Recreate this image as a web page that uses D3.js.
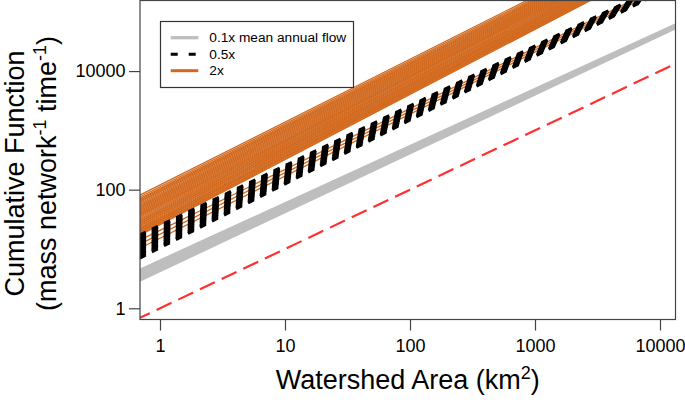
<!DOCTYPE html>
<html><head><meta charset="utf-8">
<script src="https://cdn.jsdelivr.net/npm/d3@7"></script>
<style>
body{margin:0;background:#fff;}
svg{display:block;font-family:"Liberation Sans",Arial,Helvetica,sans-serif;}
</style></head>
<body><svg id="c" width="685" height="402"></svg>
<script>
// ---- data ----
const xEnds = [0.69, 14000];            // x where every line starts / ends (km2)
const xTicks = [1, 10, 100, 1000, 10000];
const yTicks = [1, 100, 10000];
const legendLabels = ["0.1x mean annual flow", "0.5x", "2x"];

// 0.1x mean annual flow (gray)
const grayStart = [3.01, 3.30, 3.62, 3.97, 4.36];
const grayEnd   = [57000, 58300, 59700, 61000, 62400];

// 0.5x (black dashed)
const blackStart = [7.03, 7.35, 7.68, 8.11, 8.47, 8.87, 9.35, 9.77, 10.2, 10.7,
                    11.3, 11.8, 12.3, 12.9, 13.6, 14.2, 14.9, 15.6, 16.4, 17.2];
const blackEnd   = [305000, 309000, 313000, 316000, 320000, 324000, 328000, 331000, 335000, 339000,
                    343000, 347000, 351000, 355000, 360000, 363000, 367000, 372000, 377000, 380000];

// 2x (orange)
const orangeStart = [10.3, 12.1, 14.1,
  17.1, 17.7, 18.5, 19.1, 20.0, 20.6, 21.6, 22.3, 23.3, 24.5, 25.2, 26.5, 27.3, 28.6, 30.0, 30.9,
  32.4, 34.0, 35.6, 37.2, 38.5, 40.3, 42.2, 44.3, 46.3, 48.5, 50.8, 53.3, 55.8, 58.5, 61.4, 64.3,
  67.3, 70.6, 75.2, 81.1];
const orangeEnd = [330000, 350000, 370000,
  916000, 940000, 973000, 995000, 1030000, 1060000, 1090000, 1120000, 1160000, 1200000, 1230000, 1280000, 1310000, 1350000, 1400000, 1440000,
  1490000, 1540000, 1600000, 1660000, 1690000, 1750000, 1820000, 1880000, 1950000, 2020000, 2090000, 2170000, 2250000, 2330000, 2420000, 2500000,
  2590000, 2690000, 2810000, 2990000];

// 1:1 reference (red dashed)
const redStart = [0.69];
const redEnd = [14000];

// ---- layout ----
const L = 140, R = 675.5, T = 0.5, B = 319.5;
const svg = d3.select("#c");
const x = d3.scaleLog().domain([Math.pow(10, -0.16), Math.pow(10, 4.124)]).range([L, R]);
const y = d3.scaleLog().domain([Math.pow(10, -0.189), Math.pow(10, 5.19)]).range([B, T]);

svg.append("defs").append("clipPath").attr("id", "clip")
  .append("rect").attr("x", L).attr("y", T).attr("width", R - L).attr("height", B - T);

const line = d3.line().x(d => x(d[0])).y(d => y(d[1]));
const plot = svg.append("g").attr("clip-path", "url(#clip)");

function bundle(starts, ends, attrs) {
  const g = plot.append("g");
  starts.forEach((s, i) => {
    const p = g.append("path").attr("d", line([[xEnds[0], s], [xEnds[1], ends[i]]])).attr("fill", "none");
    Object.entries(attrs).forEach(([k, v]) => p.attr(k, v));
  });
}
bundle(orangeStart, orangeEnd, {stroke: "#d2691e", "stroke-width": 1.3});
bundle(blackStart, blackEnd, {stroke: "#000", "stroke-width": 3, "stroke-dasharray": "6.5,7"});
bundle(grayStart, grayEnd, {stroke: "#bebebe", "stroke-width": 3.5});
bundle(redStart, redEnd, {stroke: "#ff3030", "stroke-width": 2.2, "stroke-dasharray": "16.5,7.5", "stroke-dashoffset": 5.5});

// axes
const xa = svg.append("g").attr("transform", `translate(0,${B})`)
  .call(d3.axisBottom(x).tickValues(xTicks).tickFormat(d3.format("d")).tickSize(11).tickPadding(9));
const ya = svg.append("g").attr("transform", `translate(${L},0)`)
  .call(d3.axisLeft(y).tickValues(yTicks).tickFormat(d3.format("d")).tickSize(11).tickPadding(3.5));
[xa, ya].forEach(a => {
  a.select(".domain").remove();
  a.selectAll("line").attr("stroke", "#444").attr("stroke-width", 1.2);
  a.selectAll("text").attr("font-size", 18).attr("fill", "#000")
    .attr("font-family", '"Liberation Sans",Arial,sans-serif');
});

svg.append("rect").attr("x", L).attr("y", T).attr("width", R - L).attr("height", B - T)
  .attr("fill", "none").attr("stroke", "#444").attr("stroke-width", 1.2);

// axis titles
const xt = svg.append("text").attr("x", (L + R) / 2).attr("y", 389).attr("text-anchor", "middle")
  .attr("font-size", 27);
xt.append("tspan").text("Watershed Area (km");
xt.append("tspan").attr("font-size", 18).attr("dy", -10).text("2");
xt.append("tspan").attr("dy", 10).text(")");

const yt = svg.append("g").attr("transform", "translate(24,173.5) rotate(-90)");
yt.append("text").attr("text-anchor", "middle").attr("font-size", 27).text("Cumulative Function");
const yt2 = yt.append("text").attr("text-anchor", "middle").attr("y", 32).attr("font-size", 27);
yt2.append("tspan").text("(mass network");
yt2.append("tspan").attr("font-size", 18).attr("dy", -10).text("-1");
yt2.append("tspan").attr("dy", 10).text(" time");
yt2.append("tspan").attr("font-size", 18).attr("dy", -10).text("-1");
yt2.append("tspan").attr("dy", 10).text(")");

// legend
const lg = svg.append("g");
lg.append("rect").attr("x", 160.5).attr("y", 21.5).attr("width", 193).attr("height", 66)
  .attr("fill", "#fff").attr("stroke", "#333").attr("stroke-width", 1.2);
const legStyles = [
  {stroke: "#bebebe", w: 3.3, dash: null},
  {stroke: "#000", w: 3, dash: "7,11"},
  {stroke: "#d2691e", w: 3, dash: null}
];
const rowY = [37.7, 54.3, 70.7];
legendLabels.forEach((lab, i) => {
  const s = legStyles[i];
  const ln = lg.append("line").attr("x1", 170.7).attr("x2", 198.3).attr("y1", rowY[i]).attr("y2", rowY[i])
    .attr("stroke", s.stroke).attr("stroke-width", s.w);
  if (s.dash) ln.attr("stroke-dasharray", s.dash);
  lg.append("text").attr("x", 209.3).attr("y", rowY[i]).attr("dy", "0.35em")
    .attr("font-size", 13.7).text(lab);
});
</script></body></html>
